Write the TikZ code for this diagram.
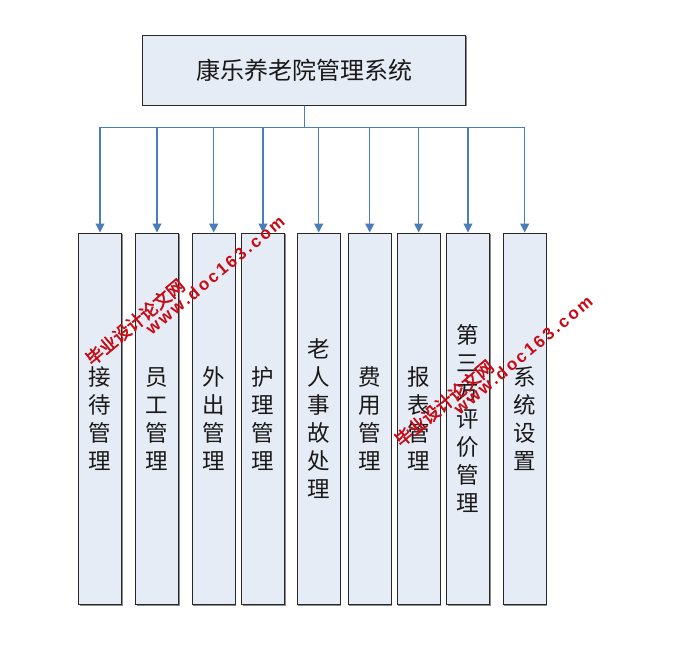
\documentclass[tikz,border=0pt]{standalone}
\usepackage{fontspec}
\setmainfont{Noto Sans CJK SC}
\newfontfamily\wmcjk[FakeBold=2.5]{Noto Sans CJK SC}
\newfontfamily\wmlat[LetterSpace=15]{Liberation Sans}
\usetikzlibrary{arrows.meta,shadows,calc}
\definecolor{boxfill}{RGB}{230,236,246}
\definecolor{boxline}{RGB}{40,40,40}
\definecolor{conn}{RGB}{74,126,187}
\definecolor{wmred}{RGB}{200,10,20}
\tikzset{
  topbox/.style={draw=boxline, line width=1pt, fill=boxfill, minimum width=323pt, minimum height=70pt, inner sep=0pt,
    font=\fontsize{24}{28}\selectfont, text=black!90,
    drop shadow={shadow xshift=1.2pt, shadow yshift=-1.2pt, fill=black!45, opacity=1}},
  modbox/.style={draw=boxline, line width=0.9pt, fill=boxfill, minimum width=43pt, minimum height=371.5pt, inner sep=0pt,
    align=center, font=\fontsize{22.5}{28}\selectfont, text=black!90,
    drop shadow={shadow xshift=1.2pt, shadow yshift=-1.2pt, fill=black!45, opacity=1}},
  conline/.style={draw=conn, line width=1.1pt, -{Triangle[width=9pt,length=9pt]}},
  wmcn/.style={text=wmred, font=\wmcjk\fontsize{17.5}{18}\selectfont, rotate=40, inner sep=0pt},
  wmen/.style={text=wmred, font=\wmlat\bfseries\fontsize{17}{18}\selectfont, rotate=40, inner sep=0pt},
}
\begin{document}
\begin{tikzpicture}[x=1pt, y=-1pt]
\useasboundingbox (0,0) rectangle (682,665);
\node[topbox] (top) at (304.3,70) {康乐养老院管理系统};
\node[modbox] (b1) at (100,418.7) {接\\待\\管\\理};
\node[modbox] (b2) at (157,418.7) {员\\工\\管\\理};
\node[modbox] (b3) at (213.7,418.7) {外\\出\\管\\理};
\node[modbox] (b4) at (263,418.7) {护\\理\\管\\理};
\node[modbox] (b5) at (318.7,418.7) {老\\人\\事\\故\\处\\理};
\node[modbox] (b6) at (369.7,418.7) {费\\用\\管\\理};
\node[modbox] (b7) at (418.7,418.7) {报\\表\\管\\理};
\node[modbox] (b8) at (468,418.7) {第\\三\\方\\评\\价\\管\\理};
\node[modbox] (b9) at (524.7,418.7) {系\\统\\设\\置};
\coordinate (bus) at ($(top.south)+(0,21.7)$);
\foreach \b in {b1,b2,b3,b4,b5,b6,b7,b8,b9}{
  \draw[conline] (top.south) -- (bus) -| (\b.north);
}
\node[wmcn] (w1a) at (135,322) {毕业设计论文网};
\node[wmen] (w1b) at (215,275) {www.doc163.com};
\node[wmcn] (w2a) at (444,403) {毕业设计论文网};
\node[wmen] (w2b) at (523,355) {www.doc163.com};
\end{tikzpicture}
\end{document}
